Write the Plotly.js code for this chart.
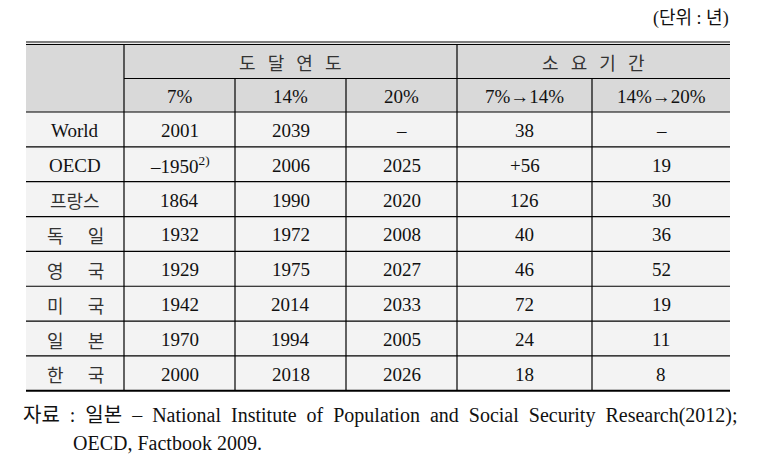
<!DOCTYPE html>
<html>
<head>
<meta charset="utf-8">
<script src="https://cdn.plot.ly/plotly-3.0.1.min.js"></script>
<style>html,body{margin:0;padding:0;background:#fff;}#chart{width:758px;height:467px;}</style>
</head>
<body>
<div id="chart"></div>
<script>
// ---- data ----
const unitLabel = "(단위 : 년)";
const groupHeaders = ["도 달 연 도", "소 요 기 간"];
const subHeaders = ["7%", "14%", "20%", "7%→14%", "14%→20%"];
const countries = ["World", "OECD", "프랑스", "독 일", "영 국", "미 국", "일 본", "한 국"];
const reach7 = ["2001", "–1950<sup>2)</sup>", "1864", "1932", "1929", "1942", "1970", "2000"];
const reach14 = ["2039", "2006", "1990", "1972", "1975", "2014", "1994", "2018"];
const reach20 = ["–", "2025", "2020", "2008", "2027", "2033", "2005", "2026"];
const years7to14 = ["38", "+56", "126", "40", "46", "72", "24", "18"];
const years14to20 = ["–", "19", "30", "36", "52", "19", "11", "8"];
const sourceLines = [
  "자료 : 일본 – National Institute of Population and Social Security Research(2012);",
  "OECD, Factbook 2009."
];

// ---- layout geometry ----
const colEdges = [26, 124, 235, 346, 457, 592, 730];
const topY = 43.5, head1Bottom = 78.5, headBottom = 112, rowH = 34.85;
const nRows = countries.length;
const bottomY = headBottom + rowH * nRows;
const FONT = "Liberation Serif, 'Noto Sans CJK KR', serif";
const KFONT = "'Noto Sans CJK KR', 'Liberation Serif', sans-serif";
const NB = "\u00a0";
// widen spaces (Plotly collapses plain spaces)
const spread = (s, n) => s.split(" ").join(NB.repeat(n));

const shapes = [];
const annotations = [];
function line(x0, y0, x1, y1, w) {
  shapes.push({type: "line", xref: "x", yref: "y", x0, y0, x1, y1, line: {color: "#000", width: w || 1}});
}
function rect(x0, y0, x1, y1, c) {
  shapes.push({type: "rect", xref: "x", yref: "y", x0, y0, x1, y1, fillcolor: c, line: {width: 0}, layer: "below"});
}
function text(t, x, y, opt) {
  opt = opt || {};
  annotations.push(Object.assign({
    text: t, x, y, xref: "x", yref: "y", showarrow: false,
    xanchor: "center", yanchor: "middle",
    font: {family: FONT, size: 19, color: "#111"}
  }, opt));
}

// backgrounds
rect(colEdges[0], topY, colEdges[6], headBottom, "#d9d9d9");
rect(colEdges[0], headBottom, colEdges[6], bottomY, "#f3f3f3");

// horizontal lines
line(colEdges[0], topY - 1.5, colEdges[6], topY - 1.5, 1.2);
line(colEdges[0], topY + 1, colEdges[6], topY + 1, 1.2);
line(colEdges[1], head1Bottom, colEdges[6], head1Bottom, 1);
line(colEdges[0], headBottom, colEdges[6], headBottom, 1.2);
for (let i = 1; i < nRows; i++) {
  const y = headBottom + rowH * i;
  line(colEdges[0], y, colEdges[6], y, 1.2);
}
line(colEdges[0], bottomY, colEdges[6], bottomY, 2);

// vertical lines
line(colEdges[1], topY + 1, colEdges[1], bottomY, 1.2);
line(colEdges[4], topY + 1, colEdges[4], bottomY, 1.2);
[2, 3, 5].forEach(i => line(colEdges[i], head1Bottom, colEdges[i], bottomY, 1.2));

// header text
const mid = i => (colEdges[i] + colEdges[i + 1]) / 2;
const kHead = {font: {family: KFONT, size: 18, color: "#333"}};
text(spread(groupHeaders[0], 3), (colEdges[1] + colEdges[4]) / 2, (topY + head1Bottom) / 2 + 1, kHead);
text(spread(groupHeaders[1], 3), (colEdges[4] + colEdges[6]) / 2, (topY + head1Bottom) / 2 + 1, kHead);
subHeaders.forEach((h, j) => text(h, mid(j + 1), (head1Bottom + headBottom) / 2 + 1));

// body
const cols = [reach7, reach14, reach20, years7to14, years14to20];
countries.forEach((c, i) => {
  const y = headBottom + rowH * (i + 0.5) + 1;
  const isK = /[가-힣]/.test(c);
  text(isK ? spread(c, 6) : c, mid(0), y, isK ? kHead : {});
  cols.forEach((arr, j) => text(arr[i], mid(j + 1), y));
});

// unit + source
text(unitLabel, 731, 18, {xanchor: "right", font: {family: FONT, size: 18, color: "#111"}});
text(spread(sourceLines[0], 2), 21, 415, {xanchor: "left", font: {family: FONT, size: 20, color: "#111"}});
text(sourceLines[1], 71, 443, {xanchor: "left", font: {family: FONT, size: 20, color: "#111"}});

const layout = {
  width: 758, height: 467,
  margin: {l: 0, r: 0, t: 0, b: 0},
  paper_bgcolor: "#fff", plot_bgcolor: "#fff",
  xaxis: {range: [0, 758], visible: false, fixedrange: true},
  yaxis: {range: [467, 0], visible: false, fixedrange: true},
  showlegend: false,
  shapes, annotations
};
Plotly.newPlot("chart", [{x: [], y: [], type: "scatter"}], layout, {staticPlot: true, displayModeBar: false});
</script>
</body>
</html>
